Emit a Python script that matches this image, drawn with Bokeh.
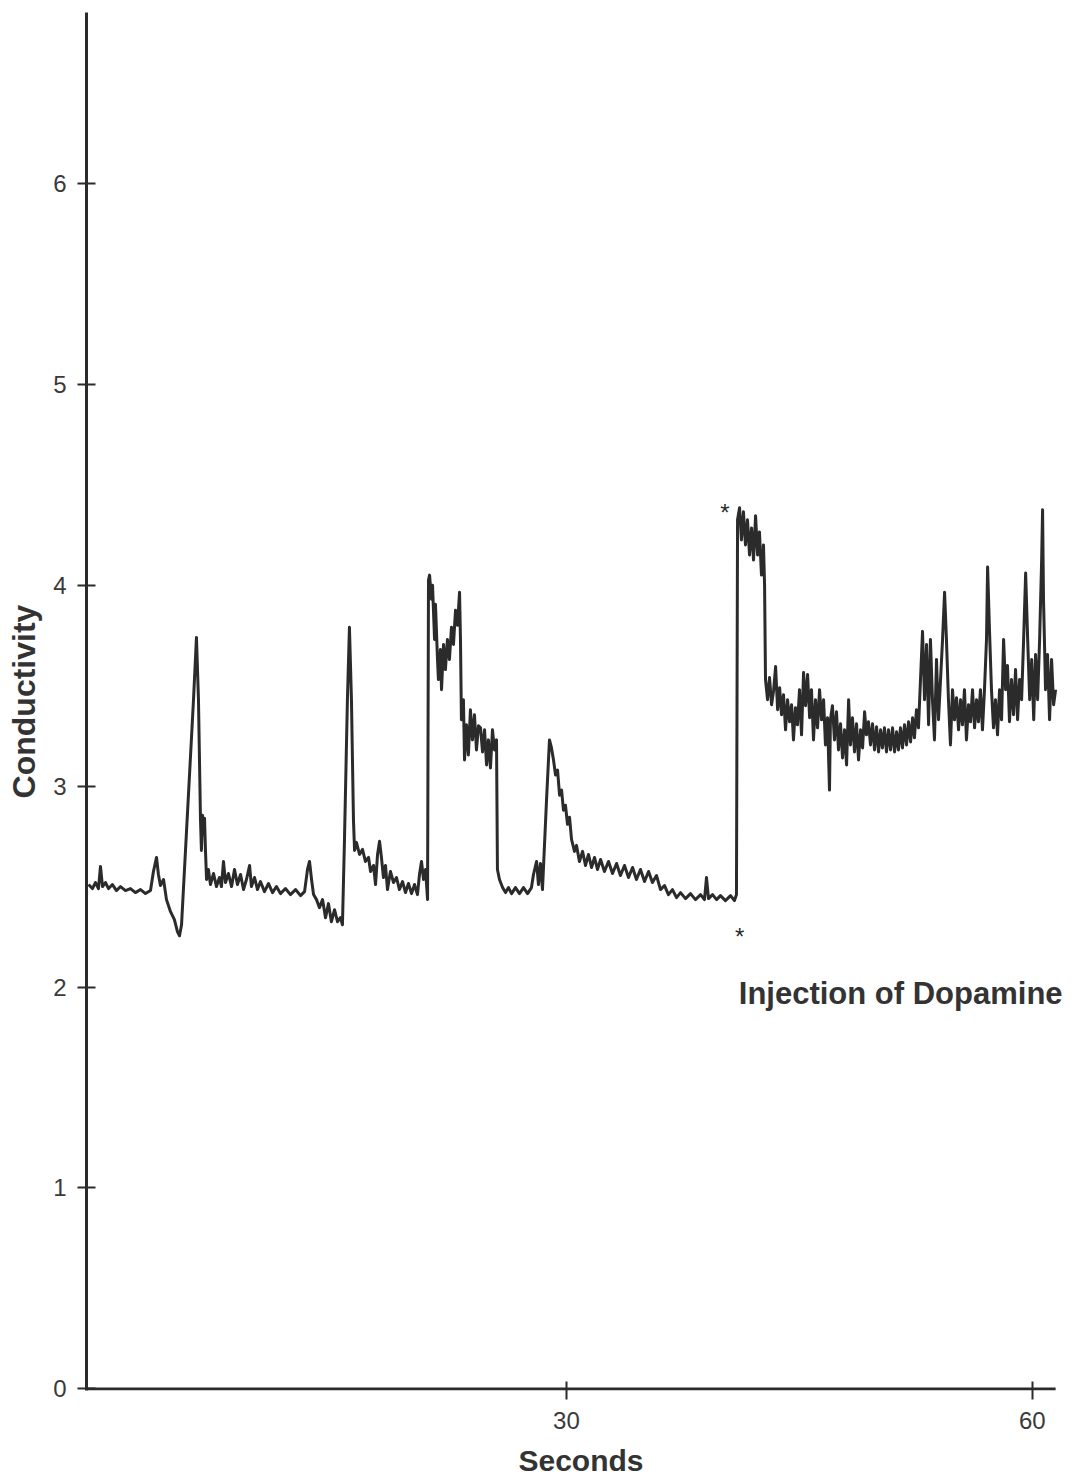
from bokeh.plotting import figure
from bokeh.models import FixedTicker, Label
from bokeh.embed import file_html
from bokeh.resources import INLINE

# ---- data (seconds, conductivity) ----
time_s = [
    -0.77, -0.52, -0.32, -0.13, 0.00, 0.13, 0.32, 0.52, 0.77, 1.03, 1.29, 1.61, 1.93, 2.25, 2.58, 2.90,
    3.22, 3.41, 3.61, 3.73, 3.86, 4.06, 4.25, 4.51, 4.76, 4.96, 5.09, 5.22, 5.99, 6.18, 6.31, 6.44,
    6.50, 6.57, 6.63, 6.70, 6.76, 6.83, 6.95, 7.08, 7.28, 7.47, 7.66, 7.79, 7.92, 8.05, 8.24, 8.44,
    8.63, 8.82, 9.02, 9.21, 9.40, 9.60, 9.72, 9.92, 10.11, 10.30, 10.56, 10.82, 11.08, 11.33, 11.59, 11.91,
    12.23, 12.56, 12.88, 13.14, 13.33, 13.46, 13.59, 13.72, 13.91, 14.10, 14.30, 14.49, 14.68, 14.87, 15.07, 15.26,
    15.45, 15.58, 15.71, 15.90, 16.03, 16.16, 16.29, 16.36, 16.48, 16.68, 16.87, 17.06, 17.26, 17.39, 17.58, 17.71,
    17.84, 17.97, 18.09, 18.22, 18.35, 18.48, 18.67, 18.87, 19.06, 19.25, 19.45, 19.64, 19.83, 20.03, 20.22, 20.41,
    20.54, 20.67, 20.80, 20.93, 21.06, 21.12, 21.19, 21.31, 21.38, 21.51, 21.57, 21.70, 21.76, 21.89, 21.96, 22.09,
    22.21, 22.34, 22.47, 22.60, 22.73, 22.86, 22.99, 23.12, 23.18, 23.24, 23.37, 23.44, 23.57, 23.69, 23.82, 23.95,
    24.08, 24.21, 24.34, 24.47, 24.60, 24.73, 24.86, 24.98, 25.11, 25.24, 25.37, 25.50, 25.56, 25.69, 25.89, 26.08,
    26.27, 26.47, 26.72, 26.98, 27.24, 27.50, 27.75, 27.88, 28.08, 28.20, 28.33, 28.46, 28.72, 28.91, 29.04, 29.17,
    29.30, 29.43, 29.56, 29.69, 29.81, 29.94, 30.07, 30.20, 30.33, 30.52, 30.65, 30.84, 31.04, 31.23, 31.42, 31.62,
    31.81, 32.00, 32.20, 32.45, 32.71, 32.97, 33.23, 33.48, 33.74, 34.00, 34.26, 34.51, 34.77, 35.03, 35.29, 35.54,
    35.80, 36.06, 36.32, 36.57, 36.83, 37.09, 37.35, 37.67, 37.99, 38.31, 38.64, 38.89, 39.02, 39.15, 39.41, 39.67,
    39.92, 40.24, 40.57, 40.82, 40.95, 41.02, 41.15, 41.27, 41.40, 41.53, 41.66, 41.79, 41.92, 42.05, 42.18, 42.31,
    42.43, 42.56, 42.69, 42.76, 42.82, 42.95, 43.08, 43.21, 43.34, 43.47, 43.60, 43.73, 43.85, 43.98, 44.11, 44.24,
    44.37, 44.50, 44.62, 44.75, 44.88, 45.01, 45.14, 45.27, 45.40, 45.53, 45.66, 45.78, 45.91, 46.04, 46.17, 46.30,
    46.43, 46.56, 46.68, 46.81, 46.94, 47.00, 47.13, 47.26, 47.39, 47.52, 47.65, 47.78, 47.91, 48.04, 48.17, 48.29,
    48.42, 48.55, 48.68, 48.81, 48.94, 49.07, 49.20, 49.32, 49.45, 49.58, 49.71, 49.84, 49.97, 50.10, 50.23, 50.35,
    50.48, 50.61, 50.74, 50.87, 51.00, 51.13, 51.26, 51.38, 51.51, 51.64, 51.77, 51.90, 52.03, 52.16, 52.29, 52.41,
    52.54, 52.67, 52.80, 52.93, 53.06, 53.19, 53.32, 53.44, 53.57, 53.70, 53.83, 53.96, 54.09, 54.22, 54.35, 54.47,
    54.60, 54.73, 54.86, 54.99, 55.12, 55.25, 55.38, 55.50, 55.63, 55.76, 55.89, 56.02, 56.15, 56.28, 56.41, 56.53,
    56.66, 56.79, 56.92, 57.05, 57.12, 57.24, 57.37, 57.50, 57.63, 57.76, 57.89, 58.02, 58.15, 58.28, 58.40, 58.53,
    58.66, 58.79, 58.92, 59.05, 59.18, 59.31, 59.44, 59.57, 59.70, 59.83, 59.96, 60.09, 60.21, 60.34, 60.47, 60.60,
    60.66, 60.72, 60.85, 60.98, 61.11, 61.24, 61.37, 61.50,
]
conductivity = [
    2.51, 2.49, 2.52, 2.49, 2.60, 2.50, 2.52, 2.49, 2.51, 2.48, 2.50, 2.48, 2.49, 2.47, 2.485, 2.465,
    2.48, 2.575, 2.645, 2.56, 2.505, 2.535, 2.435, 2.375, 2.335, 2.275, 2.255, 2.31, 3.43, 3.74, 3.43, 2.83,
    2.68, 2.855, 2.76, 2.84, 2.68, 2.535, 2.585, 2.51, 2.565, 2.50, 2.545, 2.50, 2.625, 2.52, 2.565, 2.50,
    2.585, 2.51, 2.56, 2.485, 2.535, 2.605, 2.50, 2.545, 2.485, 2.525, 2.475, 2.515, 2.47, 2.50, 2.465, 2.49,
    2.46, 2.485, 2.455, 2.475, 2.585, 2.625, 2.535, 2.46, 2.435, 2.395, 2.435, 2.345, 2.415, 2.325, 2.385, 2.325,
    2.345, 2.31, 2.73, 3.43, 3.79, 3.43, 2.83, 2.68, 2.72, 2.66, 2.685, 2.625, 2.645, 2.575, 2.605, 2.51,
    2.66, 2.725, 2.645, 2.545, 2.605, 2.485, 2.575, 2.52, 2.545, 2.485, 2.525, 2.47, 2.515, 2.465, 2.51, 2.46,
    2.56, 2.625, 2.535, 2.585, 2.435, 4.025, 4.05, 3.93, 4.00, 3.73, 3.905, 3.63, 3.53, 3.68, 3.48, 3.705,
    3.58, 3.73, 3.63, 3.79, 3.705, 3.875, 3.80, 3.965, 3.73, 3.33, 3.43, 3.13, 3.305, 3.155, 3.38, 3.23,
    3.355, 3.18, 3.30, 3.29, 3.17, 3.28, 3.105, 3.23, 3.09, 3.28, 3.18, 3.23, 2.585, 2.535, 2.495, 2.47,
    2.495, 2.465, 2.495, 2.465, 2.495, 2.465, 2.495, 2.56, 2.625, 2.51, 2.615, 2.485, 2.93, 3.23, 3.19, 3.13,
    3.055, 3.08, 2.955, 2.98, 2.88, 2.905, 2.81, 2.845, 2.735, 2.675, 2.705, 2.625, 2.675, 2.605, 2.66, 2.595,
    2.645, 2.585, 2.635, 2.575, 2.625, 2.565, 2.615, 2.555, 2.605, 2.545, 2.595, 2.535, 2.585, 2.525, 2.575, 2.52,
    2.555, 2.485, 2.505, 2.46, 2.485, 2.445, 2.47, 2.44, 2.465, 2.435, 2.46, 2.435, 2.545, 2.44, 2.46, 2.435,
    2.455, 2.43, 2.455, 2.43, 2.46, 4.325, 4.385, 4.225, 4.365, 4.20, 4.325, 4.15, 4.285, 4.125, 4.345, 4.15,
    4.265, 4.05, 4.20, 4.00, 3.53, 3.43, 3.54, 3.405, 3.475, 3.595, 3.38, 3.49, 3.355, 3.455, 3.28, 3.43,
    3.32, 3.405, 3.23, 3.39, 3.305, 3.48, 3.255, 3.565, 3.40, 3.555, 3.34, 3.48, 3.23, 3.43, 3.29, 3.48,
    3.33, 3.43, 3.205, 3.34, 2.98, 3.33, 3.40, 3.23, 3.37, 3.18, 3.31, 3.14, 3.28, 3.105, 3.43, 3.205,
    3.34, 3.17, 3.31, 3.13, 3.28, 3.19, 3.37, 3.255, 3.32, 3.205, 3.31, 3.18, 3.295, 3.17, 3.28, 3.19,
    3.29, 3.17, 3.28, 3.18, 3.29, 3.17, 3.27, 3.18, 3.29, 3.19, 3.305, 3.205, 3.32, 3.22, 3.34, 3.24,
    3.38, 3.29, 3.53, 3.77, 3.43, 3.705, 3.305, 3.73, 3.43, 3.23, 3.63, 3.33, 3.53, 3.73, 3.965, 3.73,
    3.43, 3.205, 3.48, 3.33, 3.44, 3.28, 3.43, 3.305, 3.48, 3.23, 3.405, 3.32, 3.48, 3.29, 3.43, 3.32,
    3.48, 3.28, 3.48, 3.73, 4.09, 3.78, 3.48, 3.29, 3.43, 3.255, 3.48, 3.33, 3.73, 3.48, 3.60, 3.32,
    3.53, 3.355, 3.58, 3.33, 3.53, 3.43, 3.73, 4.06, 3.73, 3.43, 3.63, 3.33, 3.655, 3.43, 3.73, 4.125,
    4.375, 3.93, 3.48, 3.655, 3.33, 3.63, 3.405, 3.48,
]

y_ticks = [0, 1, 2, 3, 4, 5, 6]
x_ticks = [30, 60]
x_axis_end = 61.5
x_title = "Seconds"
y_title = "Conductivity"
note_text = "Injection of Dopamine"

INK = "#2b2b2b"

# frame spans the full width on the right so the note is not clipped;
# the x axis line itself is drawn only up to x_axis_end
p = figure(width=1075, height=1483, x_range=(-0.9, 62.78), y_range=(-0.008, 6.85),
           output_backend="svg", toolbar_location=None,
           min_border_left=86, min_border_right=0, min_border_top=12, min_border_bottom=93)

p.background_fill_color = "white"
p.border_fill_color = "white"
p.outline_line_color = None
p.grid.grid_line_color = None

p.segment(x0=[-0.9], y0=[0], x1=[x_axis_end], y1=[0], line_width=3, line_color=INK)
p.line(time_s, conductivity, line_width=3, line_color=INK, line_join="round")

p.xaxis.ticker = FixedTicker(ticks=x_ticks)
p.yaxis.ticker = FixedTicker(ticks=y_ticks)
for ax in (p.xaxis[0], p.yaxis[0]):
    ax.axis_line_width = 3
    ax.axis_line_color = INK
    ax.major_tick_line_color = INK
    ax.major_tick_line_width = 2
    ax.major_tick_in = 9
    ax.major_tick_out = 9
    ax.minor_tick_line_color = None
    ax.major_label_text_font = "Liberation Sans"
    ax.major_label_text_font_size = "24px"
    ax.major_label_text_color = "#3a3a3a"
    ax.axis_label_text_font = "Liberation Sans"
    ax.axis_label_text_font_style = "bold"
    ax.axis_label_text_color = "#333333"
p.xaxis.axis_line_color = None

p.xaxis.axis_label = x_title
p.yaxis.axis_label = y_title
p.xaxis.axis_label_text_font_size = "30px"
p.yaxis.axis_label_text_font_size = "32px"
p.xaxis.major_label_standoff = 12
p.yaxis.major_label_standoff = 11
p.xaxis.axis_label_standoff = 12
p.yaxis.axis_label_standoff = 8

p.add_layout(Label(x=40.2, y=4.36, text="*", text_font="Liberation Sans", text_font_size="24px",
                   text_color=INK, text_align="center", text_baseline="middle"))
p.add_layout(Label(x=41.15, y=2.25, text="*", text_font="Liberation Sans", text_font_size="24px",
                   text_color=INK, text_align="center", text_baseline="middle"))
p.add_layout(Label(x=41.1, y=1.97, text=note_text, text_font="Liberation Sans", text_font_style="bold",
                   text_font_size="31px", text_color="#333333", text_align="left", text_baseline="middle"))

open("out.html", "w").write(file_html(p, INLINE))
